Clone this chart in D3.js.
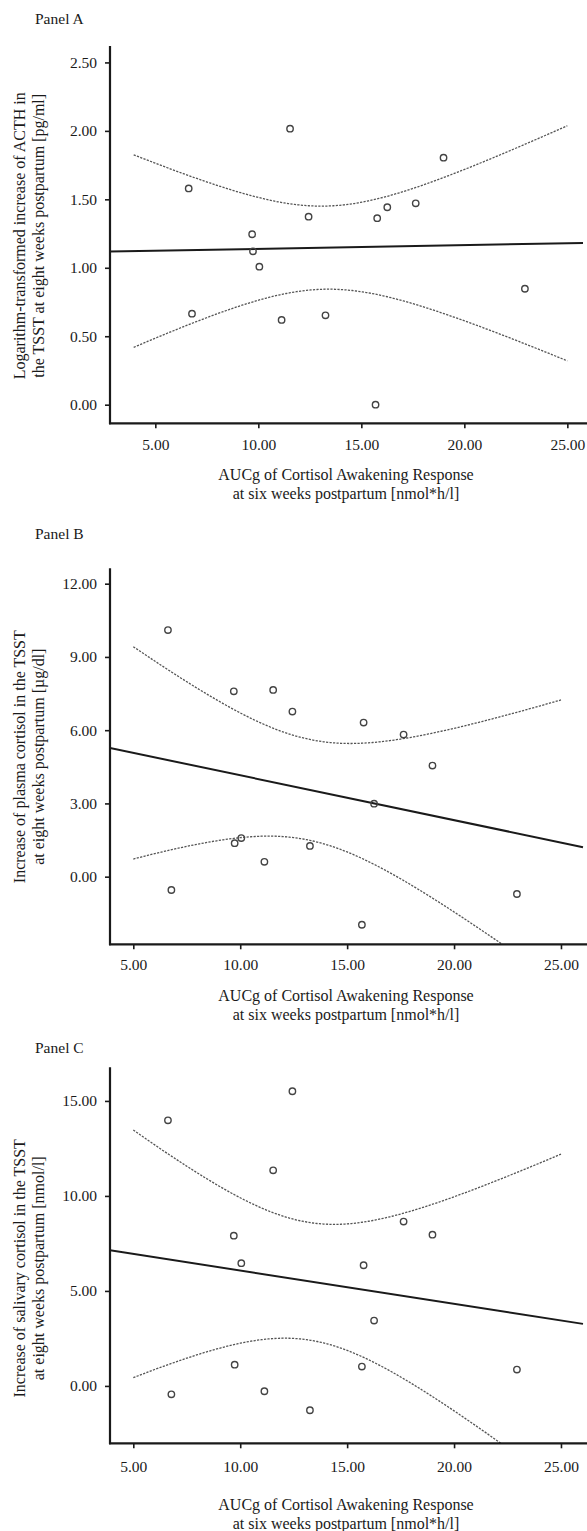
<!DOCTYPE html>
<html>
<head>
<meta charset="utf-8">
<script src="https://cdn.jsdelivr.net/npm/d3@7"></script>
<style>
body { margin: 0; background: #fff; }
svg text { font-family: "Liberation Serif", "Times New Roman", serif; fill: #1a1a1a; }
</style>
</head>
<body>
<div id="chart"></div>
<script>
// AUCg of the cortisol awakening response (same 15 women in every panel)
const cawAUCg = [6.62, 6.78, 9.70, 9.74, 10.05, 11.54, 11.13, 12.44, 13.26, 15.69, 15.77, 16.26, 17.64, 18.99, 22.94];

// outcomes in the TSST at eight weeks postpartum
const acthLog = [1.58, 0.665, 1.245, 1.12, 1.008, 2.016, 0.619, 1.373, 0.653, 0.00, 1.362, 1.442, 1.471, 1.804, 0.847];
const plasmaCortisol = [10.10, -0.545, 7.59, 1.37, 1.58, 7.65, 0.61, 6.76, 1.26, -1.97, 6.31, 2.99, 5.82, 4.55, -0.71];
const salivaryCortisol = [13.98, -0.44, 7.91, 1.12, 6.46, 11.35, -0.28, 15.51, -1.28, 1.02, 6.35, 3.44, 8.65, 7.96, 0.86];

// tick labels
const xTicks = [5, 10, 15, 20, 25];
const acthTicks = [0, 0.5, 1, 1.5, 2, 2.5];
const plasmaTicks = [0, 3, 6, 9, 12];
const salivaryTicks = [0, 5, 10, 15];

const panelNames = ["Panel A", "Panel B", "Panel C"];
const yTitles = [
    ["Logarithm-transformed increase of ACTH in", "the TSST at eight weeks postpartum [pg/ml]"],
    ["Increase of plasma cortisol in the TSST", "at eight weeks postpartum [\u00b5g/dl]"],
    ["Increase of salivary cortisol in the TSST", "at eight weeks postpartum [nmol/l]"]
];
const xTitle = ["AUCg of Cortisol Awakening Response", "at six weeks postpartum [nmol*h/l]"];

// t(0.975, df = 13) for the 95% CI of the mean prediction
const tCrit = 2.160;

// layout of the three panels
const W = 587, H = 1531, left = 110, right = 583;
const panels = [
    {name: panelNames[0], y: acthLog, ticks: acthTicks, title: yTitles[0],
     xDomain: [2.80, 25.76], yDomain: [-0.136, 2.62], ci: [3.95, 25],
     top: 46, bottom: 423.3, tickOff: 21.7, titleOff: 51, labelY: 18.3, yTitleC: 235.8},
    {name: panelNames[1], y: plasmaCortisol, ticks: plasmaTicks, title: yTitles[1],
     xDomain: [3.91, 26.03], yDomain: [-2.77, 12.63], ci: [5, 25],
     top: 568.3, bottom: 944.3, tickOff: 20, titleOff: 51, labelY: 533.3, yTitleC: 756.7},
    {name: panelNames[2], y: salivaryCortisol, ticks: salivaryTicks, title: yTitles[2],
     xDomain: [3.91, 26.03], yDomain: [-3.02, 16.77], ci: [5, 25],
     top: 1067.3, bottom: 1443.3, tickOff: 23.4, titleOff: 61, labelY: 1047.3, yTitleC: 1268.3}
];

const svg = d3.select("#chart")
    .append("svg")
    .attr("width", W)
    .attr("height", H);

panels.forEach(function(p, i) {
    const x = d3.scaleLinear().domain(p.xDomain).range([left, right]);
    const y = d3.scaleLinear().domain(p.yDomain).range([p.bottom, p.top]);
    const g = svg.append("g");

    g.append("clipPath").attr("id", "clip" + i)
        .append("rect")
        .attr("x", left).attr("y", p.top)
        .attr("width", W - left).attr("height", p.bottom - p.top);

    // linear fit and 95% CI of the mean
    const n = cawAUCg.length;
    const xm = d3.mean(cawAUCg), ym = d3.mean(p.y);
    const sxx = d3.sum(cawAUCg, v => (v - xm) ** 2);
    const sxy = d3.sum(cawAUCg, (v, k) => (v - xm) * (p.y[k] - ym));
    const b = sxy / sxx, a = ym - b * xm;
    const se = Math.sqrt(d3.sum(cawAUCg, (v, k) => (p.y[k] - a - b * v) ** 2) / (n - 2));
    const fit = v => a + b * v;
    const half = v => tCrit * se * Math.sqrt(1 / n + (v - xm) ** 2 / sxx);

    const plot = g.append("g").attr("clip-path", `url(#clip${i})`);

    const steps = d3.range(p.ci[0], p.ci[1], 0.1).concat([p.ci[1]]);
    const line = d3.line().x(d => x(d[0])).y(d => y(d[1]));
    [1, -1].forEach(function(sign) {
        plot.append("path")
            .attr("d", line(steps.map(v => [v, fit(v) + sign * half(v)])))
            .attr("fill", "none")
            .attr("stroke", "#555")
            .attr("stroke-width", 1.3)
            .attr("stroke-dasharray", "2.2,1.3");
    });

    plot.append("path")
        .attr("d", line(p.xDomain.map(v => [v, fit(v)])))
        .attr("fill", "none")
        .attr("stroke", "#1a1a1a")
        .attr("stroke-width", 2);

    plot.selectAll("circle")
        .data(cawAUCg.map((v, k) => [v, p.y[k]]))
        .join("circle")
        .attr("cx", d => x(d[0]))
        .attr("cy", d => y(d[1]))
        .attr("r", 3.2)
        .attr("fill", "none")
        .attr("stroke", "#444")
        .attr("stroke-width", 1.4);

    // axes
    const yAxis = g.append("g")
        .attr("transform", `translate(${left},0)`)
        .call(d3.axisLeft(y).tickValues(p.ticks).tickFormat(d3.format(".2f"))
            .tickSize(5).tickSizeOuter(0).tickPadding(8));
    yAxis.select(".domain").remove();
    yAxis.selectAll(".tick line").attr("stroke", "#1a1a1a").attr("stroke-width", 1.6);
    yAxis.selectAll(".tick text").attr("font-size", "15.5px")
        .style("font-family", '"Liberation Serif", serif').attr("fill", "#1a1a1a");

    const xAxis = g.append("g")
        .attr("transform", `translate(0,${p.bottom})`)
        .call(d3.axisBottom(x).tickValues(xTicks).tickFormat(d3.format(".2f"))
            .tickSize(5).tickSizeOuter(0));
    xAxis.select(".domain").remove();
    xAxis.selectAll(".tick line").attr("stroke", "#1a1a1a").attr("stroke-width", 1.6);
    xAxis.selectAll(".tick text").attr("font-size", "15.5px")
        .style("font-family", '"Liberation Serif", serif').attr("fill", "#1a1a1a")
        .attr("y", p.tickOff).attr("dy", "0.35em");

    g.append("line")
        .attr("x1", left).attr("x2", left)
        .attr("y1", p.top).attr("y2", p.bottom + 1)
        .attr("stroke", "#1a1a1a").attr("stroke-width", 2.2);
    g.append("line")
        .attr("x1", left - 1).attr("x2", W)
        .attr("y1", p.bottom).attr("y2", p.bottom)
        .attr("stroke", "#1a1a1a").attr("stroke-width", 2.2);

    // titles
    g.append("text")
        .attr("x", 35).attr("y", p.labelY)
        .attr("dominant-baseline", "central")
        .attr("font-size", "15.5px")
        .text(p.name);

    xTitle.forEach(function(t, k) {
        g.append("text")
            .attr("x", 346).attr("y", p.bottom + p.titleOff + k * 19.2)
            .attr("text-anchor", "middle")
            .attr("dominant-baseline", "central")
            .attr("font-size", "16px")
            .text(t);
    });

    p.title.forEach(function(t, k) {
        g.append("text")
            .attr("transform", `translate(${19.5 + k * 18.7},${p.yTitleC}) rotate(-90)`)
            .attr("text-anchor", "middle")
            .attr("dominant-baseline", "central")
            .attr("font-size", "16px")
            .text(t);
    });
});
</script>
</body>
</html>
